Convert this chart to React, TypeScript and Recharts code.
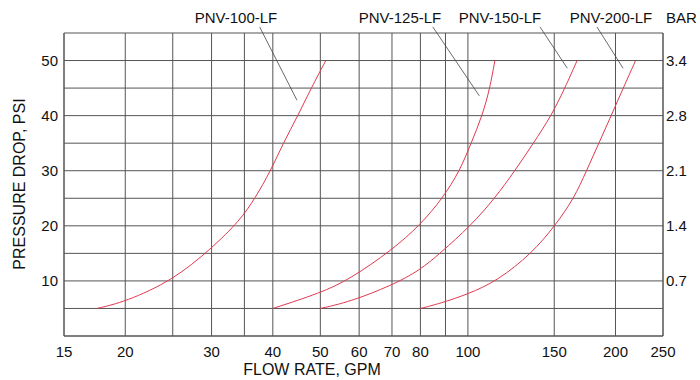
import {
  LineChart,
  Line,
  XAxis,
  YAxis,
  CartesianGrid,
  ReferenceLine,
} from "recharts";

// flow (GPM) and pressure drop (PSI)
const pnv100Flow = [17.5, 20, 25, 30, 34.3, 36.8, 39.6, 42, 45, 47.9, 51.3];
const pnv100Psi = [5, 6.2, 10.1, 15.9, 21, 25, 30, 35, 40, 45, 50];

const pnv125Flow = [40, 50, 57.4, 70, 80, 88.8, 96.3, 101.5, 107, 110.9, 113.5];
const pnv125Psi = [5, 7.8, 10.3, 15.6, 20.2, 25, 30, 35, 40, 45, 50];

const pnv150Flow = [50, 57.4, 70, 80, 87.7, 101.3, 113.5, 124.7, 136, 148, 157.7, 167];
const pnv150Psi = [5, 6.2, 9.2, 12, 15, 20, 25, 30, 35, 40, 45, 50];

const pnv200Flow = [80, 87.7, 100, 114.8, 135, 150.5, 164.7, 174.5, 185, 196, 207.4, 219.8];
const pnv200Psi = [5, 5.9, 7.6, 10, 15, 20, 25, 30, 35, 40, 45, 50];

const seriesNames = ["PNV-100-LF", "PNV-125-LF", "PNV-150-LF", "PNV-200-LF"];

const flowTicks = [15, 20, 25, 30, 35, 40, 50, 60, 70, 80, 90, 100, 150, 200, 250];
const flowLabelled = [15, 20, 30, 40, 50, 60, 70, 80, 100, 150, 200, 250];
const psiTicks = [0, 5, 10, 15, 20, 25, 30, 35, 40, 45, 50, 55];
const psiLabelled = [10, 20, 30, 40, 50];
const barLabels = ["0.7", "1.4", "2.1", "2.8", "3.4"];

// leader lines: label end (above plot) -> near curve top, in GPM / PSI
const leaderFrom = [
  [37.6, 56.1],
  [84.8, 56.1],
  [140.3, 56.1],
  [183.3, 56.1],
];
const leaderTo = [
  [44.8, 42.8],
  [105.5, 43.6],
  [159.5, 48.6],
  [207.3, 48.6],
];

const zip = (q: number[], p: number[]) => q.map((v, i) => ({ q: v, p: p[i] }));
const series = [
  zip(pnv100Flow, pnv100Psi),
  zip(pnv125Flow, pnv125Psi),
  zip(pnv150Flow, pnv150Psi),
  zip(pnv200Flow, pnv200Psi),
];

const labelX = [236, 400, 500, 611];
const font = "'Liberation Sans', Arial, sans-serif";
const red = "#e0394f";
const gridColor = "#555";

export default function App() {
  return (
    <div style={{ position: "absolute", left: 0, top: 0, fontFamily: font }}>
      <LineChart
        width={700}
        height={380}
        margin={{ top: 33, right: 0, left: 0, bottom: 0 }}
      >
        <CartesianGrid
          yAxisId="left"
          stroke={gridColor}
          strokeWidth={1}
          horizontalValues={psiTicks}
          verticalValues={flowTicks}
        />
        <XAxis
          dataKey="q"
          type="number"
          scale="log"
          domain={[15, 250]}
          allowDataOverflow
          ticks={flowTicks}
          height={44}
          tickSize={0}
          tickMargin={10}
          axisLine={{ stroke: gridColor }}
          tick={{ fill: "#111", fontSize: 15, fontFamily: font }}
          tickFormatter={(v: number) => (flowLabelled.includes(v) ? `${v}` : "")}
          interval={0}
        />
        <YAxis
          yAxisId="left"
          type="number"
          domain={[0, 55]}
          allowDataOverflow
          ticks={psiTicks}
          width={64}
          tickSize={0}
          tickMargin={6}
          axisLine={{ stroke: gridColor }}
          tick={{ fill: "#111", fontSize: 15, fontFamily: font }}
          tickFormatter={(v: number) => (psiLabelled.includes(v) ? `${v}` : "")}
          interval={0}
        />
        <YAxis
          yAxisId="right"
          orientation="right"
          type="number"
          domain={[0, 55]}
          allowDataOverflow
          ticks={psiLabelled}
          width={37}
          tickSize={0}
          tickMargin={3}
          axisLine={{ stroke: gridColor }}
          tick={{ fill: "#111", fontSize: 15, fontFamily: font }}
          tickFormatter={(v: number) => barLabels[psiLabelled.indexOf(v)]}
          interval={0}
        />
        {series.map((d, i) => (
          <Line
            key={seriesNames[i]}
            yAxisId={i === 3 ? "right" : "left"}
            data={d}
            dataKey="p"
            name={seriesNames[i]}
            type="basis"
            stroke={red}
            strokeWidth={1}
            dot={false}
            isAnimationActive={false}
          />
        ))}
        {leaderFrom.map((f, i) => (
          <ReferenceLine
            key={`leader-${i}`}
            yAxisId="left"
            segment={[
              { x: f[0], y: f[1] },
              { x: leaderTo[i][0], y: leaderTo[i][1] },
            ]}
            stroke="#444"
            strokeWidth={0.8}
            ifOverflow="visible"
          />
        ))}
        {seriesNames.map((name, i) => (
          <text
            key={name}
            x={labelX[i]}
            y={23}
            textAnchor="middle"
            fontSize={15}
            fontFamily={font}
            fill="#111"
          >
            {name}
          </text>
        ))}
        <text x={666} y={23} fontSize={15} fontFamily={font} fill="#111">
          BAR
        </text>
        <text
          x={312}
          y={375}
          textAnchor="middle"
          fontSize={16}
          fontFamily={font}
          fill="#111"
        >
          FLOW RATE, GPM
        </text>
        <text
          x={25}
          y={184}
          textAnchor="middle"
          fontSize={16}
          fontFamily={font}
          fill="#111"
          transform="rotate(-90 25 184)"
        >
          PRESSURE DROP, PSI
        </text>
      </LineChart>
    </div>
  );
}
